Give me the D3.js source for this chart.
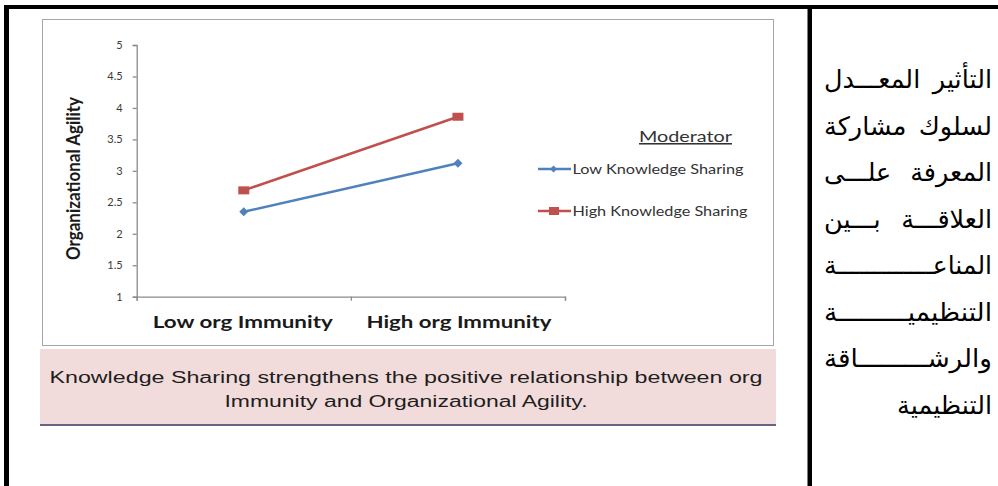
<!DOCTYPE html>
<html>
<head>
<meta charset="utf-8">
<script src="https://cdn.jsdelivr.net/npm/d3@7"></script>
<style>
  html, body { margin: 0; padding: 0; background: #fff; }
  svg { display: block; }
</style>
</head>
<body>
<svg id="chart" width="998" height="486"></svg>
<script>
// ---- data ----
const categories = ["Low org Immunity", "High org Immunity"];
const seriesNames = ["Low Knowledge Sharing", "High Knowledge Sharing"];
const lowKnowledgeSharing = [2.35, 3.12];
const highKnowledgeSharing = [2.69, 3.86];
const yTicks = [1, 1.5, 2, 2.5, 3, 3.5, 4, 4.5, 5];
const yTitle = "Organizational  Agility";
const legendTitle = "Moderator";
const captionLines = [
  "Knowledge Sharing strengthens the positive relationship between org",
  "Immunity and Organizational Agility."
];
// side text rows in reading order (first word at the right)
const arabicRows = [
  ["التأثير", "المعـــدل"],
  ["لسلوك", "مشاركة"],
  ["المعرفة", "علـــى"],
  ["العلاقـــة", "بـــين"],
  ["المناعـــــــــــــة"],
  ["التنظيميـــــــــة"],
  ["والرشـــــــــاقة"],
  ["التنظيمية"]
];

// ---- drawing ----
const svg = d3.select("#chart");
const colors = ["#4F81BD", "#C0504D"];
const series = [lowKnowledgeSharing, highKnowledgeSharing];

// page frame lines
svg.append("rect").attr("x", 4).attr("y", 5).attr("width", 994).attr("height", 4).attr("fill", "#000");
svg.append("rect").attr("x", 4).attr("y", 5).attr("width", 5).attr("height", 481).attr("fill", "#000");
svg.append("rect").attr("x", 807.5).attr("y", 5).attr("width", 4.5).attr("height", 481).attr("fill", "#000");

// chart box
svg.append("rect").attr("x", 42.5).attr("y", 19.5).attr("width", 731).attr("height", 326)
  .attr("fill", "#fff").attr("stroke", "#a6a6a6").attr("stroke-width", 1);

const y = d3.scaleLinear().domain([1, 5]).range([296.7, 45]);
const x = d3.scaleBand().domain(categories).range([136.7, 565]).padding(0);
const xEdge = d3.scaleLinear().domain([0, categories.length]).range([136.7, 565]);

// y axis
const gy = svg.append("g").attr("transform", "translate(136.7,0)")
  .call(d3.axisLeft(y).tickValues(yTicks).tickSize(4).tickPadding(10).tickFormat(d => d));
gy.selectAll("path, line").attr("stroke", "#8c8c8c").attr("stroke-width", 1.3);
gy.selectAll("text").attr("font-family", "Lato, 'Open Sans', sans-serif").attr("font-size", 11)
  .attr("fill", "#3a3a3a");

// x axis (ticks at category boundaries)
const gx = svg.append("g").attr("transform", "translate(0,296.7)")
  .call(d3.axisBottom(xEdge).tickValues(d3.range(categories.length + 1)).tickSize(4).tickSizeOuter(4).tickFormat(""));
gx.selectAll("path, line").attr("stroke", "#8c8c8c").attr("stroke-width", 1.3);

// category labels
svg.append("g").selectAll("text").data(categories).join("text")
  .attr("x", d => x(d) + x.bandwidth() / 2 + (d === categories[0] ? -1 : 1))
  .attr("y", 327.5)
  .attr("text-anchor", "middle")
  .attr("font-family", "Lato, sans-serif").attr("font-weight", 700).attr("font-size", 17)
  .attr("textLength", (d, i) => i === 0 ? 180 : 185).attr("lengthAdjust", "spacingAndGlyphs")
  .attr("fill", "#1a1a1a")
  .text(d => d);

// y title
svg.append("text")
  .attr("transform", "translate(79.5,178.5) rotate(-90)")
  .attr("text-anchor", "middle")
  .attr("font-family", "Lato, sans-serif").attr("font-weight", 700).attr("font-size", 19)
  .attr("textLength", 163).attr("lengthAdjust", "spacingAndGlyphs")
  .attr("fill", "#1a1a1a")
  .text(yTitle);

// lines and markers
const line = d3.line().x((d, i) => x(categories[i]) + x.bandwidth() / 2).y(d => y(d));
const diamond = "M0,-4.5L4.5,0L0,4.5L-4.5,0Z";
series.forEach((vals, si) => {
  svg.append("path").datum(vals).attr("d", line)
    .attr("fill", "none").attr("stroke", colors[si]).attr("stroke-width", 2.5);
  const g = svg.append("g");
  vals.forEach((v, i) => {
    const cx = x(categories[i]) + x.bandwidth() / 2, cy = y(v);
    if (si === 0) {
      g.append("path").attr("d", diamond).attr("transform", `translate(${cx},${cy})`).attr("fill", colors[si]);
    } else {
      g.append("rect").attr("x", cx - 5.5).attr("y", cy - 4).attr("width", 11).attr("height", 8).attr("fill", colors[si]);
    }
  });
});

// legend
svg.append("text").attr("x", 639).attr("y", 142)
  .attr("font-family", "Lato, sans-serif").attr("font-size", 15.5)
  .attr("textLength", 93).attr("lengthAdjust", "spacingAndGlyphs")
  .attr("text-decoration", "underline").attr("fill", "#333")
  .text(legendTitle);

const legendY = [169, 211];
const legendW = [171, 175];
seriesNames.forEach((name, si) => {
  const ly = legendY[si];
  svg.append("line").attr("x1", 538).attr("x2", 571).attr("y1", ly).attr("y2", ly)
    .attr("stroke", colors[si]).attr("stroke-width", 2.5);
  if (si === 0) {
    svg.append("path").attr("d", "M0,-3.5L3.5,0L0,3.5L-3.5,0Z").attr("transform", `translate(553.5,${ly})`).attr("fill", colors[si]);
  } else {
    svg.append("rect").attr("x", 549).attr("y", ly - 4).attr("width", 10).attr("height", 8).attr("fill", colors[si]);
  }
  svg.append("text").attr("x", 572.5).attr("y", ly + 4.5)
    .attr("font-family", "Lato, sans-serif").attr("font-size", 13.5)
    .attr("textLength", legendW[si]).attr("lengthAdjust", "spacingAndGlyphs")
    .attr("fill", "#333")
    .text(name);
});

// caption box
svg.append("rect").attr("x", 40).attr("y", 349).attr("width", 736).attr("height", 76).attr("fill", "#F2DCDB");
svg.append("line").attr("x1", 40).attr("x2", 776).attr("y1", 425).attr("y2", 425)
  .attr("stroke", "#6a6482").attr("stroke-width", 2);
const capLen = [713, 363];
const capY = [383, 406.5];
captionLines.forEach((t, i) => {
  svg.append("text").attr("x", 406).attr("y", capY[i]).attr("text-anchor", "middle")
    .attr("font-family", "'Liberation Sans', Arial, sans-serif").attr("font-size", 16)
    .attr("textLength", capLen[i]).attr("lengthAdjust", "spacingAndGlyphs")
    .attr("fill", "#1e1e1e")
    .text(t);
});

// Arabic side text (right to left; justified between the two edges)
const arRight = 992, arLeft = 824;
arabicRows.forEach((row, i) => {
  const by = 88 + i * 46.5;
  const base = t => svg.append("text").attr("y", by).attr("direction", "rtl")
    .attr("font-family", "'DejaVu Sans', sans-serif").attr("font-size", 25.5).attr("fill", "#000").text(t);
  if (row.length === 2) {
    base(row[0]).attr("x", arRight).attr("text-anchor", "start");
    base(row[1]).attr("x", arLeft).attr("text-anchor", "end");
  } else if (i < arabicRows.length - 1) {
    base(row[0]).attr("x", arRight).attr("text-anchor", "start")
      .attr("textLength", arRight - arLeft).attr("lengthAdjust", "spacingAndGlyphs");
  } else {
    base(row[0]).attr("x", arRight).attr("text-anchor", "start");
  }
});
</script>
</body>
</html>
